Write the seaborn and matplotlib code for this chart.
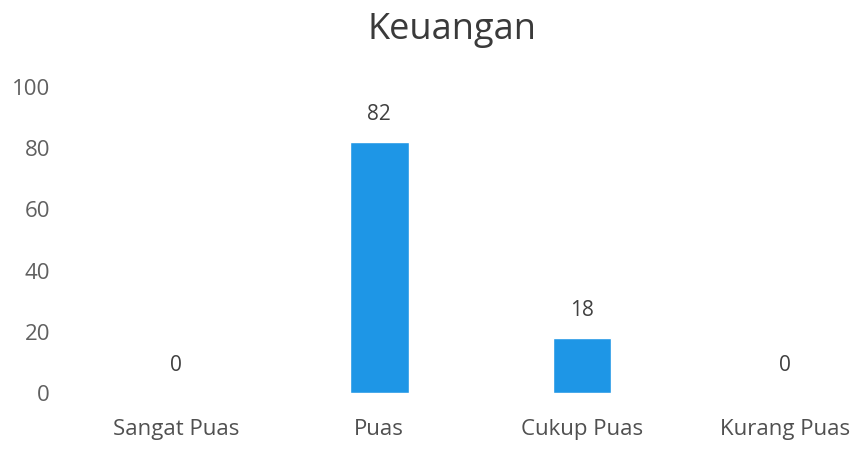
import matplotlib
matplotlib.use('agg')
import matplotlib.pyplot as plt
import seaborn as sns
import pandas as pd

# data
categories = ['Sangat Puas', 'Puas', 'Cukup Puas', 'Kurang Puas']
values = [0, 82, 18, 0]
y_ticks = [0, 20, 40, 60, 80, 100]

df = pd.DataFrame({'kategori': categories, 'nilai': values})

sns.set_theme(style='white')
plt.rcParams['font.family'] = ['Open Sans', 'DejaVu Sans']

fig = plt.figure(figsize=(8.64, 4.55), dpi=100)
ax = fig.add_axes([75 / 864, 62 / 455, 789 / 864, 306 / 455])

sns.barplot(data=df, x='kategori', y='nilai', color='#1e96e6',
            width=0.29, saturation=1, ax=ax)

ax.bar_label(ax.containers[0], labels=[str(v) for v in values],
             padding=12, fontsize=15, color='#404040')

ax.set_xlim(-0.5, 3.39)
ax.set_ylim(0, 100)
ax.set_yticks(y_ticks)
ax.set_xlabel('')
ax.set_ylabel('')
ax.tick_params(axis='y', length=0, pad=18, labelsize=16, labelcolor='#606060')
ax.tick_params(axis='x', length=0, pad=19, labelsize=16, labelcolor='#505050')
for s in ax.spines.values():
    s.set_visible(False)

fig.text(452 / 864, 1 - 30 / 455, 'Keuangan', ha='center', va='center',
         fontsize=26, color='#3a3a3a')

fig.savefig('out.png', dpi=100)
